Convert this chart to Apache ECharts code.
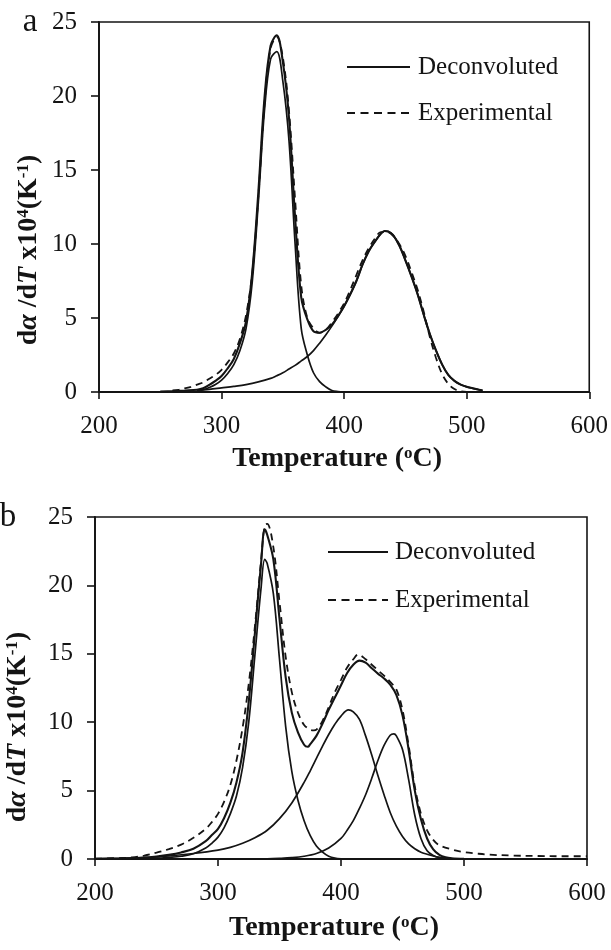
<!DOCTYPE html>
<html><head><meta charset="utf-8">
<script src="https://cdn.jsdelivr.net/npm/echarts@6/dist/echarts.min.js"></script>
<style>html,body{margin:0;padding:0;background:#fff}#c{width:611px;height:950px}</style>
</head><body><div id="c"></div>
<script>
// ---------- Panel a ----------
const aComp1T = [275,280,285,290,295,300,305,310,315,320,325,330,335,340,345,350,355,360,365,370,375,380,385,390,395,400];
const aComp1V = [0.02,0.05,0.15,0.3,0.5,0.8,1.25,1.85,2.8,4.3,7.4,12.8,19.0,22.5,23.0,21.0,17.0,10.0,4.3,2.5,1.3,0.7,0.35,0.1,0.03,0];
const aComp2T = [280,290,300,310,320,330,340,345,350,355,360,365,370,375,380,385,390,395,400,405,410,415,420,425,430,433,436,440,445,450,455,460,465,470,475,480,485,490,495,500,505,510,513];
const aComp2V = [0.1,0.18,0.28,0.38,0.5,0.68,0.92,1.1,1.3,1.55,1.8,2.1,2.4,2.8,3.3,3.85,4.45,5.1,5.8,6.6,7.5,8.6,9.5,10.15,10.7,10.88,10.85,10.6,9.9,8.9,7.8,6.6,5.2,3.9,2.8,1.85,1.15,0.75,0.5,0.35,0.25,0.15,0.1];
const aSumT = [250,260,270,280,285,290,295,300,305,310,315,320,325,330,335,340,345,350,355,360,365,370,375,380,385,390,395,400,405,410,415,420,425,430,433,436,440,445,450,455,460,465,470,475,480,485,490,495,500,505,510,513];
const aSumV = [0.03,0.06,0.1,0.15,0.25,0.48,0.75,1.08,1.6,2.23,3.3,4.8,8.05,13.5,19.85,23.4,24.1,22.3,18.55,11.8,6.4,4.9,4.1,4.0,4.2,4.55,5.13,5.8,6.6,7.5,8.6,9.5,10.15,10.7,10.88,10.85,10.6,9.9,8.9,7.8,6.6,5.2,3.9,2.8,1.85,1.15,0.75,0.5,0.35,0.25,0.15,0.1];
const aExpT = [260,265,270,275,280,285,290,295,300,305,310,315,320,325,330,335,340,345,350,355,360,365,370,375,380,385,390,395,400,405,410,415,420,425,430,435,440,445,450,455,460,465,470,475,480,485,490,495,500];
const aExpV = [0.1,0.15,0.25,0.35,0.5,0.65,0.9,1.15,1.5,2.0,2.6,3.6,5.2,8.0,13.2,19.4,23.2,24.0,22.6,19.0,13.0,7.2,5.0,4.3,4.0,4.2,4.7,5.3,6.0,6.9,7.9,8.9,9.7,10.35,10.8,10.8,10.55,10.0,9.2,8.1,6.9,5.4,3.7,2.3,1.2,0.55,0.2,0.05,0.0];

// ---------- Panel b ----------
const bComp1T = [230,250,260,270,280,290,295,300,305,310,315,320,325,330,335,338,340,345,350,355,360,365,370,375,380,385,390,395,400];
const bComp1V = [0.02,0.06,0.12,0.2,0.38,0.8,1.15,1.6,2.3,3.3,4.6,6.7,10.0,14.9,19.8,21.9,21.6,19.4,14.6,9.7,6.4,4.3,2.8,1.7,0.95,0.5,0.2,0.06,0.01];
const bComp2T = [200,220,240,260,280,300,310,320,330,340,350,360,370,375,380,385,390,395,400,406,410,415,420,425,430,435,440,445,450,455,460,465,470,475,480,490];
const bComp2V = [0.01,0.04,0.1,0.22,0.4,0.65,0.85,1.15,1.55,2.1,2.95,4.1,5.6,6.45,7.35,8.25,9.1,9.85,10.45,10.9,10.75,10.2,9.0,7.6,6.1,4.7,3.4,2.4,1.65,1.1,0.75,0.5,0.35,0.22,0.12,0.03];
const bComp3T = [300,320,340,350,360,370,380,390,400,405,410,415,420,425,430,435,440,443,445,450,455,460,465,470,475,480,490];
const bComp3V = [0.0,0.01,0.02,0.05,0.1,0.2,0.4,0.8,1.5,2.1,2.8,3.7,4.7,5.9,7.2,8.3,9.05,9.15,9.0,8.0,5.8,3.2,1.5,0.6,0.25,0.1,0.02];
const bSumT = [200,220,240,250,260,270,280,290,295,300,305,310,315,320,325,330,335,338,340,345,350,355,360,365,370,373,375,380,385,390,395,400,405,410,415,420,425,430,435,440,445,450,455,460,465,470,475,480,485,490,500];
const bSumV = [0.01,0.04,0.1,0.18,0.3,0.48,0.75,1.3,1.75,2.2,3.0,4.1,5.6,7.8,11.5,16.5,21.6,24.1,23.7,21.9,17.55,13.3,10.7,9.25,8.35,8.2,8.4,9.0,9.9,10.9,11.8,12.7,13.6,14.2,14.5,14.35,13.95,13.55,13.2,12.75,12.0,10.5,8.0,5.0,2.9,1.5,0.7,0.3,0.12,0.05,0.01];
const bExpT = [200,210,220,230,240,250,260,270,280,290,295,300,305,310,315,320,325,330,335,338,340,345,350,355,360,365,370,375,378,380,385,390,395,400,405,410,414,420,425,430,435,440,445,450,455,460,465,470,475,480,490,500,510,520,540,560,580,600];
const bExpV = [0.02,0.04,0.07,0.12,0.25,0.46,0.72,1.05,1.55,2.2,2.7,3.3,4.2,5.4,7.2,9.6,12.8,17.0,21.8,24.4,24.5,22.8,18.8,14.8,12.2,10.7,9.8,9.45,9.4,9.45,10.1,11.1,12.2,13.1,14.0,14.6,14.95,14.6,14.2,13.8,13.4,12.95,12.4,10.9,8.3,5.3,3.3,2.1,1.4,1.0,0.7,0.5,0.4,0.32,0.25,0.22,0.2,0.2];

// ---------- Axis / legend text ----------
const xTicks = [200, 300, 400, 500, 600];
const yTicks = [0, 5, 10, 15, 20, 25];
const legendNames = ['Deconvoluted', 'Experimental'];

const SERIF = '"Liberation Serif", "Times New Roman", serif';
const INK = '#141414';
const pairs = (t, v) => t.map((x, i) => [x, v[i]]);

function xAxisFor(gi) {
  return {
    type: 'value', gridIndex: gi, min: xTicks[0], max: xTicks[xTicks.length - 1], interval: 100,
    axisLine: { onZero: false, lineStyle: { color: INK, width: 1.8 } },
    axisTick: { show: true, inside: false, length: 7, lineStyle: { color: INK, width: 1.6 } },
    splitLine: { show: false },
    axisLabel: { color: INK, fontFamily: SERIF, fontSize: 25, margin: 22 },
    name: '{t|Temperature (}{s|o}{t|C)}', nameLocation: 'middle', nameGap: gi === 0 ? 53 : 55,
    nameTextStyle: {
      padding: [0, 14, 0, 0],
      rich: {
        t: { fontFamily: SERIF, fontSize: 28, fontWeight: 'bold', color: INK },
        s: { fontFamily: SERIF, fontSize: 17, fontWeight: 'bold', color: INK, verticalAlign: 'top' }
      }
    }
  };
}
function yAxisFor(gi) {
  return {
    type: 'value', gridIndex: gi, min: yTicks[0], max: yTicks[yTicks.length - 1], interval: 5,
    axisLine: { show: true, lineStyle: { color: INK, width: 1.8 } },
    axisTick: { show: true, inside: false, length: 8, lineStyle: { color: INK, width: 1.6 } },
    splitLine: { show: false },
    axisLabel: { color: INK, fontFamily: SERIF, fontSize: 25, margin: 22 }
  };
}
function line(name, gi, t, v, dashed, w) {
  return {
    type: 'line', name, xAxisIndex: gi, yAxisIndex: gi, data: pairs(t, v),
    showSymbol: false, symbol: 'none', smooth: 0.35, animation: false, silent: true,
    lineStyle: { color: INK, width: w, type: dashed ? [7, 5] : 'solid' },
    itemStyle: { color: INK }
  };
}

const yTitleRich = {
  b: { fontFamily: SERIF, fontSize: 28, fontWeight: 'bold', fill: INK, color: INK },
  bi: { fontFamily: SERIF, fontSize: 28, fontWeight: 'bold', fontStyle: 'italic', fill: INK, color: INK },
  s: { fontFamily: SERIF, fontSize: 17, fontWeight: 'bold', fill: INK, color: INK, verticalAlign: 'top' }
};
const yTitleText = '{b|d}{bi|α}{b| /d}{bi|T}{b| x10}{s|4}{b|(K}{s|-1}{b|)}';

function legendGraphics(x0, x1, yTop, yBot, tx) {
  return [
    { type: 'line', shape: { x1: x0, y1: yTop, x2: x1, y2: yTop }, style: { stroke: INK, lineWidth: 2 } },
    { type: 'line', shape: { x1: x0, y1: yBot, x2: x1, y2: yBot }, style: { stroke: INK, lineWidth: 2, lineDash: [8, 5.5] } },
    { type: 'text', x: tx, y: yTop, style: { text: legendNames[0], fontFamily: SERIF, fontSize: 25, fill: INK, align: 'left', verticalAlign: 'middle' } },
    { type: 'text', x: tx, y: yBot, style: { text: legendNames[1], fontFamily: SERIF, fontSize: 25, fill: INK, align: 'left', verticalAlign: 'middle' } }
  ];
}

const chart = echarts.init(document.getElementById('c'), null, { renderer: 'canvas' });
chart.setOption({
  backgroundColor: '#fff',
  animation: false,
  grid: [
    { left: 99, top: 22, width: 491, height: 370, show: true, borderColor: INK, borderWidth: 1.6, backgroundColor: 'transparent' },
    { left: 95, top: 517, width: 492, height: 342, show: true, borderColor: INK, borderWidth: 1.6, backgroundColor: 'transparent' }
  ],
  xAxis: [xAxisFor(0), xAxisFor(1)],
  yAxis: [yAxisFor(0), yAxisFor(1)],
  series: [
    line('Deconvoluted', 0, aSumT, aSumV, false, 2.1),
    line('Deconvoluted', 0, aComp1T, aComp1V, false, 1.7),
    line('Deconvoluted', 0, aComp2T, aComp2V, false, 1.7),
    line('Experimental', 0, aExpT, aExpV, true, 1.8),
    line('Deconvoluted', 1, bSumT, bSumV, false, 2.1),
    line('Deconvoluted', 1, bComp1T, bComp1V, false, 1.7),
    line('Deconvoluted', 1, bComp2T, bComp2V, false, 1.7),
    line('Deconvoluted', 1, bComp3T, bComp3V, false, 1.7),
    line('Experimental', 1, bExpT, bExpV, true, 1.8)
  ],
  graphic: [
    { type: 'text', x: 30, y: 22, style: { text: 'a', fontFamily: SERIF, fontSize: 33, fill: INK, align: 'center', verticalAlign: 'middle' } },
    { type: 'text', x: 8, y: 517, style: { text: 'b', fontFamily: SERIF, fontSize: 33, fill: INK, align: 'center', verticalAlign: 'middle' } },
    { type: 'text', x: 29, y: 250, rotation: Math.PI / 2, style: { text: yTitleText, rich: yTitleRich, align: 'center', verticalAlign: 'middle' } },
    { type: 'text', x: 18, y: 727, rotation: Math.PI / 2, style: { text: yTitleText, rich: yTitleRich, align: 'center', verticalAlign: 'middle' } }
  ].concat(legendGraphics(347, 410, 67, 113, 418), legendGraphics(328, 388, 552, 600, 395))
});
</script>
</body></html>
